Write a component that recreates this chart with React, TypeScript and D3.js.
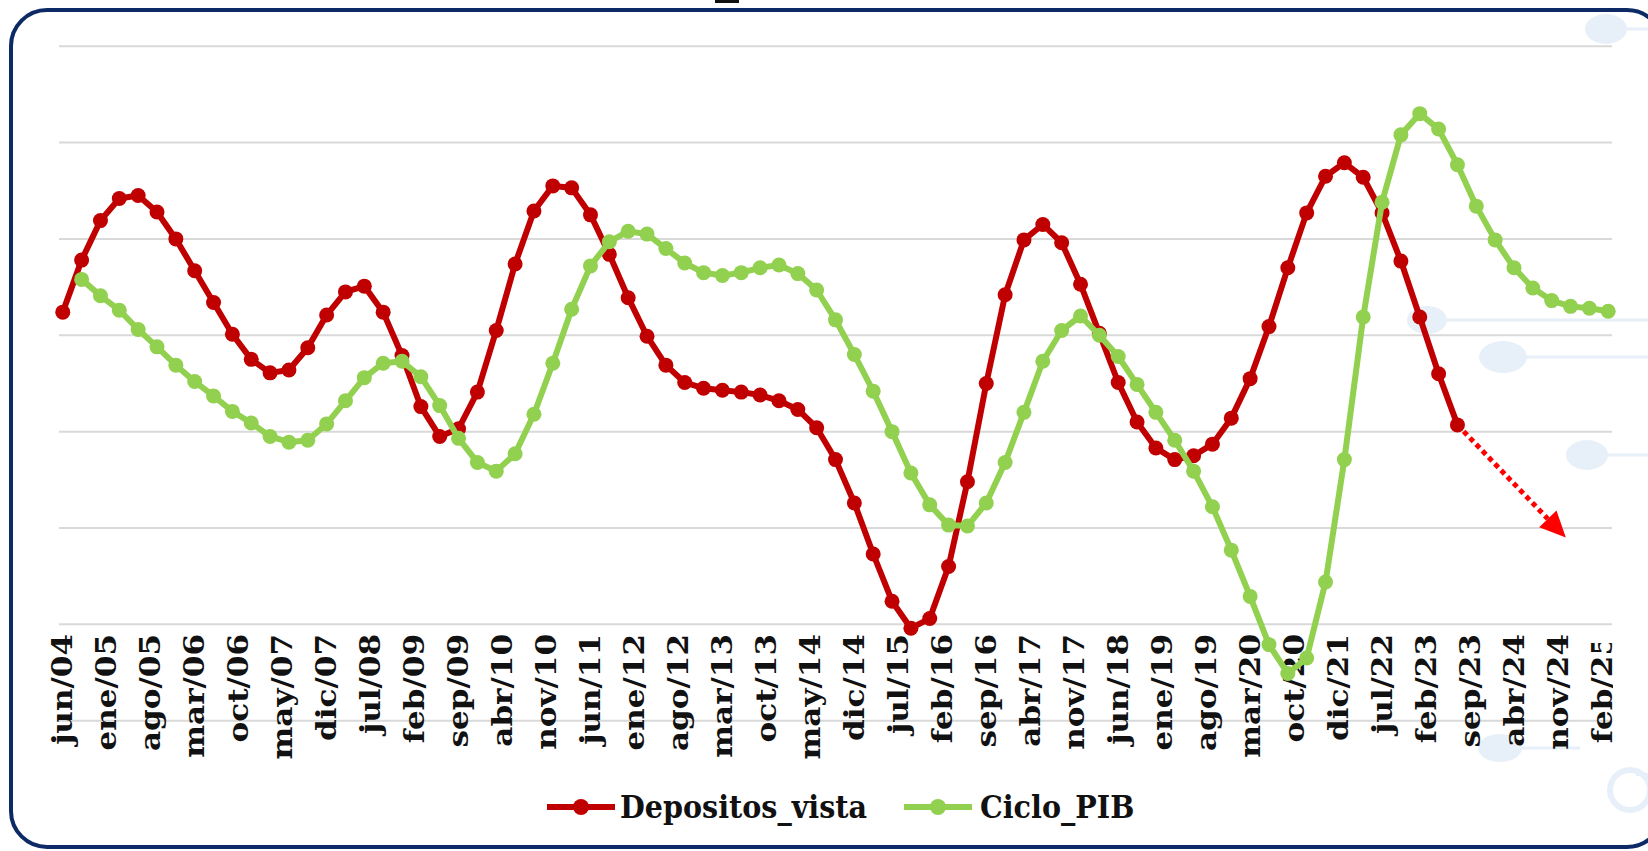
import React from "react";
import * as d3 from "d3";

// ---- Data ----
const labels = [
  "jun/04", "ene/05", "ago/05", "mar/06", "oct/06", "may/07", "dic/07", "jul/08",
  "feb/09", "sep/09", "abr/10", "nov/10", "jun/11", "ene/12", "ago/12", "mar/13",
  "oct/13", "may/14", "dic/14", "jul/15", "feb/16", "sep/16", "abr/17", "nov/17",
  "jun/18", "ene/19", "ago/19", "mar/20", "oct/20", "dic/21", "jul/22", "feb/23",
  "sep/23", "abr/24", "nov/24", "feb/25",
];

// quarterly observations; Depositos_vista starts at quarter 0 (jun/04)
const depositosVista = [
  3.24, 3.78, 4.19, 4.42, 4.45, 4.28, 4.0, 3.67, 3.34, 3.01,
  2.75, 2.61, 2.64, 2.87, 3.21, 3.45, 3.51, 3.24, 2.79, 2.26,
  1.95, 2.03, 2.41, 3.05, 3.74, 4.29, 4.55, 4.53, 4.25, 3.84,
  3.39, 2.99, 2.69, 2.51, 2.45, 2.43, 2.41, 2.38, 2.32, 2.23,
  2.04, 1.71, 1.26, 0.73, 0.24, -0.04, 0.06, 0.6, 1.48, 2.5,
  3.42, 3.99, 4.15, 3.96, 3.53, 3.02, 2.51, 2.1, 1.83, 1.71,
  1.75, 1.87, 2.14, 2.55, 3.09, 3.7, 4.27, 4.65, 4.79, 4.64,
  4.27, 3.77, 3.19, 2.6, 2.07,
];
const depositosStart = 0;

// Ciclo_PIB starts one quarter later
const cicloPIB = [
  3.58, 3.41, 3.26, 3.06, 2.88, 2.69, 2.52, 2.37, 2.21, 2.09,
  1.95, 1.89, 1.91, 2.08, 2.32, 2.56, 2.71, 2.73, 2.57, 2.27,
  1.93, 1.68, 1.59, 1.77, 2.18, 2.71, 3.27, 3.72, 3.97, 4.08,
  4.05, 3.9, 3.75, 3.65, 3.62, 3.65, 3.7, 3.73, 3.64, 3.47,
  3.16, 2.8, 2.42, 2.0, 1.57, 1.24, 1.03, 1.02, 1.26, 1.68,
  2.2, 2.73, 3.05, 3.2, 3.0, 2.78, 2.49, 2.2, 1.91, 1.59,
  1.22, 0.77, 0.29, -0.21, -0.51, -0.35, 0.44, 1.71, 3.19, 4.38,
  5.08, 5.3, 5.14, 4.77, 4.34, 3.99, 3.7, 3.49, 3.36, 3.3,
  3.28, 3.25,
];
const cicloStart = 1;

// projected direction arrow (end point, quarter index / value)
const arrowEnd = { q: 79.75, v: 0.9 };

const gridValues = [-1, 0, 1, 2, 3, 4, 5, 6];

const RED = "#c00000";
const GREEN = "#92d050";
const FONT = "'DejaVu Serif', Georgia, serif";

export default function App() {
  const W = 1648;
  const H = 851;
  const x = d3.scaleLinear().domain([-0.2, 82.2]).range([59, 1612]);
  const y = d3.scaleLinear().domain([-1, 6]).range([720.7, 46.2]);

  const redPts: [number, number][] = depositosVista.map((v, i) => [x(i + depositosStart), y(v)]);
  const greenPts: [number, number][] = cicloPIB.map((v, i) => [x(i + cicloStart), y(v)]);
  const line = d3.line<[number, number]>().x((d) => d[0]).y((d) => d[1]);

  const last = redPts[redPts.length - 1];
  const tip: [number, number] = [x(arrowEnd.q), y(arrowEnd.v)];
  const ang = Math.atan2(tip[1] - last[1], tip[0] - last[0]);
  const headLen = 26;
  const headW = 12;
  const baseC: [number, number] = [tip[0] - headLen * Math.cos(ang), tip[1] - headLen * Math.sin(ang)];
  const px = -Math.sin(ang), py = Math.cos(ang);
  const head = `M${tip[0]},${tip[1]} L${baseC[0] + headW * px},${baseC[1] + headW * py} L${baseC[0] - headW * px},${baseC[1] - headW * py} Z`;

  const deco = "#e7f0f9";
  const lastIdx = labels.length - 1;

  return (
    <svg width={W} height={H} style={{ position: "absolute", left: 0, top: 0, background: "#fff" }}>
      <defs>
        <clipPath id="plotclip">
          <rect x={0} y={0} width={1613} height={H} />
        </clipPath>
        <clipPath id="lastclip">
          <rect x={0} y={643} width={1613} height={H} />
        </clipPath>
      </defs>
      <rect x={0} y={0} width={W} height={H} fill="#fff" />
      {/* background decorations */}
      <g fill={deco} stroke="none">
        <ellipse cx={1606} cy={29} rx={21} ry={15} />
        <rect x={1606} y={27.5} width={50} height={3} />
        <ellipse cx={1427} cy={320} rx={20} ry={14} />
        <rect x={1427} y={318.5} width={230} height={3} />
        <ellipse cx={1503} cy={357} rx={24} ry={16} />
        <rect x={1503} y={355.5} width={150} height={3} />
        <ellipse cx={1587} cy={455} rx={21} ry={15} />
        <rect x={1587} y={453.5} width={70} height={3} />
        <ellipse cx={1500} cy={748} rx={22} ry={14} />
        <rect x={1500} y={746.5} width={80} height={3} />
        <rect x={1636} y={773} width={20} height={3} />
      </g>
      <circle cx={1630} cy={790} r={20} fill="none" stroke={deco} strokeWidth={6} />
      {/* border */}
      <rect x={11} y={10} width={1652} height={837} rx={36} ry={36} fill="none" stroke="#0d2a66" strokeWidth={4} />
      <rect x={715} y={0} width={24} height={3} fill="#111" />

      {/* gridlines */}
      {gridValues.map((g) => (
        <line key={g} x1={59} x2={1612} y1={y(g)} y2={y(g)} stroke="#d9d9d9" strokeWidth={2} />
      ))}

      {/* category labels */}
      <g clipPath="url(#plotclip)">
        {labels.map((lab, i) => (
          <g key={lab + i} clipPath={i === lastIdx ? "url(#lastclip)" : undefined}>
            <text
              transform={`translate(${x((i * 7) / 3)},${634}) rotate(-90) scale(1.15,1)`}
              textAnchor="end"
              dy="0.36em"
              fontFamily={FONT}
              fontWeight="bold"
              fontSize={27}
              fill="#111"
            >
              {lab}
            </text>
          </g>
        ))}
      </g>

      {/* Depositos_vista */}
      <path d={line(redPts) || ""} fill="none" stroke={RED} strokeWidth={6} strokeLinejoin="round" />
      {redPts.map((p, i) => (
        <circle key={"r" + i} cx={p[0]} cy={p[1]} r={7.5} fill={RED} />
      ))}

      {/* arrow */}
      <line x1={last[0] + 9 * Math.cos(ang)} y1={last[1] + 9 * Math.sin(ang)} x2={baseC[0]} y2={baseC[1]} stroke="#ff0000" strokeWidth={5} strokeDasharray="5 4" />
      <path d={head} fill="#ff0000" />

      {/* Ciclo_PIB */}
      <path d={line(greenPts) || ""} fill="none" stroke={GREEN} strokeWidth={6} strokeLinejoin="round" />
      {greenPts.map((p, i) => (
        <circle key={"g" + i} cx={p[0]} cy={p[1]} r={7.5} fill={GREEN} />
      ))}

      {/* legend */}
      <g>
        <line x1={547} x2={615} y1={807} y2={807} stroke={RED} strokeWidth={6} />
        <circle cx={581} cy={807} r={8} fill={RED} />
        <text transform="translate(620,818) scale(1.1,1.25)" fontFamily={FONT} fontWeight="bold" fontSize={26} fill="#111">
          Depositos_vista
        </text>
        <line x1={904} x2={972} y1={807} y2={807} stroke={GREEN} strokeWidth={6} />
        <circle cx={938} cy={807} r={8} fill={GREEN} />
        <text transform="translate(980,818) scale(1.1,1.25)" fontFamily={FONT} fontWeight="bold" fontSize={26} fill="#111">
          Ciclo_PIB
        </text>
      </g>
    </svg>
  );
}
